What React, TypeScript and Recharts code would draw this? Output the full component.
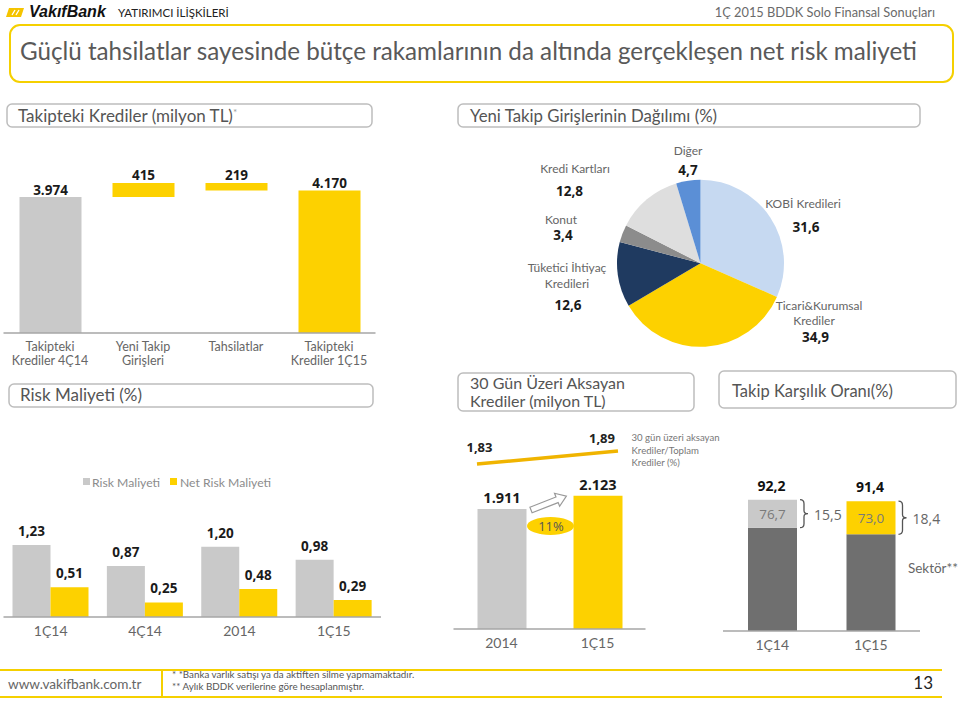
import React from "react";
import { BarChart, Bar, XAxis, YAxis, PieChart, Pie, Cell, ComposedChart, Line, LabelList } from "recharts";

const TEXT_FONT = "'Lato', 'Open Sans', sans-serif";
const NUM_FONT = "'Open Sans', sans-serif";
const YELLOW = "#fdd100";
const LIGHT_GREY = "#c9c9c9";
const DARK_GREY = "#6f6f6f";
const AXIS = "#a6a6a6";
const TICK_GREY = "#666";

// Takipteki Krediler (milyon TL)
const nplSteps = ["Takipteki Krediler 4Ç14", "Yeni Takip Girişleri", "Tahsilatlar", "Takipteki Krediler 1Ç15"];
const nplTickLines = [["Takipteki", "Krediler 4Ç14"], ["Yeni Takip", "Girişleri"], ["Tahsilatlar"], ["Takipteki", "Krediler 1Ç15"]];
const nplValues = [3974, 415, 219, 4170];
const nplKinds = ["total", "up", "down", "total"];
const nplColors = [LIGHT_GREY, YELLOW, YELLOW, YELLOW];

// Yeni Takip Girişlerinin Dağılımı (%)
const pieNames = ["KOBİ Kredileri", "Ticari&Kurumsal Krediler", "Tüketici İhtiyaç Kredileri", "Konut", "Kredi Kartları", "Diğer"];
const pieNameLines = [["KOBİ Kredileri"], ["Ticari&Kurumsal", "Krediler"], ["Tüketici İhtiyaç", "Kredileri"], ["Konut"], ["Kredi Kartları"], ["Diğer"]];
const pieValues = [31.6, 34.9, 12.6, 3.4, 12.8, 4.7];
const pieColors = ["#c6d9f1", YELLOW, "#1f3a60", "#8c8c8c", "#dedede", "#5b8fd6"];

// Risk Maliyeti (%)
const riskPeriods = ["1Ç14", "4Ç14", "2014", "1Ç15"];
const riskCost = [1.23, 0.87, 1.2, 0.98];
const netRiskCost = [0.51, 0.25, 0.48, 0.29];

// 30 Gün Üzeri Aksayan Krediler
const pastDuePeriods = ["2014", "1Ç15"];
const pastDueAmounts = [1911, 2123];
const pastDueRatio = [1.83, 1.89];
const pastDueColors = [LIGHT_GREY, YELLOW];

// Takip Karşılık Oranı (%)
const coveragePeriods = ["1Ç14", "1Ç15"];
const coverageTotal = [92.2, 91.4];
const sectorCoverage = [76.7, 73.0];
const coverageColors = [LIGHT_GREY, YELLOW];

// label offsets around the pie centre (text centres)
const pieLabelLayout = [
  { names: [[102.5, -59.3]], value: [105.5, -36.3] },
  { names: [[118.5, 42.7], [113.5, 57.2]], value: [115, 73.7] },
  { names: [[-133.5, 4.7], [-133.5, 20.7]], value: [-132.5, 41.7] },
  { names: [[-139.5, -43.3]], value: [-137.5, -28.8] },
  { names: [[-125.5, -94.3]], value: [-131, -72.3] },
  { names: [[-12.5, -112.3]], value: [-12.5, -93.3] },
];
const ratioLabelOffset = [[2.5, -12], [-16, -8]];

const fmt = (v: number, dec = 0) => {
  const [i, f] = v.toFixed(dec).split(".");
  const intStr = i.replace(/\B(?=(\d{3})+(?!\d))/g, ".");
  return f ? `${intStr},${f}` : intStr;
};

let running = 0;
const nplData = nplSteps.map((name, i) => {
  const v = nplValues[i];
  let base = 0;
  if (nplKinds[i] === "total") running = v;
  else if (nplKinds[i] === "up") { base = running; running += v; }
  else { running -= v; base = running; }
  return { name, base, value: v };
});

const pieData = pieNames.map((name, i) => ({ name, value: pieValues[i] }));
const riskData = riskPeriods.map((period, i) => ({ period, risk: riskCost[i], net: netRiskCost[i] }));
const pastDueData = pastDuePeriods.map((period, i) => ({ period, amount: pastDueAmounts[i], ratio: pastDueRatio[i] }));
const coverageData = coveragePeriods.map((period, i) => ({
  period,
  sector: sectorCoverage[i],
  gap: Math.round((coverageTotal[i] - sectorCoverage[i]) * 10) / 10,
}));

const box = (p: any) => p.viewBox ?? p;

const valueAbove = (gap: number, size: number, dec: number) => (props: any) => {
  const vb = box(props);
  return (
    <text x={vb.x + vb.width / 2} y={vb.y - gap} textAnchor="middle" fontFamily={NUM_FONT}
      fontWeight={700} fontSize={size} fill="#1a1a1a">
      {fmt(Number(props.value), dec)}
    </text>
  );
};

const simpleTick = (dy: number) => (props: any) => (
  <text x={props.x} y={props.y + dy} textAnchor="middle" fontFamily={TEXT_FONT} fontSize={14} fill={TICK_GREY}>
    {props.payload.value}
  </text>
);

const NplTick = (props: any) => {
  const idx = nplSteps.indexOf(props.payload.value);
  const lines = nplTickLines[idx] ?? [props.payload.value];
  return (
    <text textAnchor="middle" fontFamily={TEXT_FONT} fontSize={12.5} fill={TICK_GREY}>
      {lines.map((l, i) => (
        <tspan key={i} x={props.x} y={props.y + 17.5 + i * 14.5}>{l}</tspan>
      ))}
    </text>
  );
};

const renderPieLabel = (props: any) => {
  const i = props.index ?? pieNames.indexOf(props.name);
  const lay = pieLabelLayout[i];
  const { cx, cy } = props;
  return (
    <g>
      {pieNameLines[i].map((l, k) => (
        <text key={k} x={cx + lay.names[k][0]} y={cy + lay.names[k][1] + 4} textAnchor="middle"
          fontFamily={TEXT_FONT} fontSize={12} fill="#666">{l}</text>
      ))}
      <text x={cx + lay.value[0]} y={cy + lay.value[1] + 5} textAnchor="middle" fontFamily={NUM_FONT}
        fontWeight={700} fontSize={13.5} fill="#1a1a1a">{fmt(pieValues[i], 1)}</text>
    </g>
  );
};

const ratioLabel = (props: any) => {
  const vb = box(props);
  const i = props.index ?? pastDueRatio.indexOf(props.value);
  const [dx, dy] = ratioLabelOffset[i] ?? [0, -10];
  return (
    <text x={vb.x + dx} y={vb.y + dy} textAnchor="middle" fontFamily={NUM_FONT} fontWeight={700}
      fontSize={13} fill="#222">{fmt(Number(props.value), 2)}</text>
  );
};

const gapLabel = (props: any) => {
  const vb = box(props);
  const gaps = coverageData.map((d) => d.gap);
  const i = props.index ?? gaps.indexOf(props.value);
  const { x, y, width, height } = vb;
  const mid = y + height / 2;
  const bx = x + width + 3;
  return (
    <g>
      <text x={x + width / 2 - 1} y={y - 9} textAnchor="middle" fontFamily={NUM_FONT} fontWeight={700}
        fontSize={14} fill="#111">{fmt(coverageTotal[i], 1)}</text>
      <text x={x + width / 2} y={mid + 5} textAnchor="middle" fontFamily={NUM_FONT} fontSize={13.5}
        fill="#7a7a7a">{fmt(sectorCoverage[i], 1)}</text>
      <path
        d={`M${bx} ${y} Q${bx + 4} ${y} ${bx + 4} ${y + 4} L${bx + 4} ${mid - 3} Q${bx + 4} ${mid} ${bx + 8} ${mid}
           Q${bx + 4} ${mid} ${bx + 4} ${mid + 3} L${bx + 4} ${y + height - 4} Q${bx + 4} ${y + height} ${bx} ${y + height}`}
        fill="none" stroke="#555" strokeWidth={1.3} />
      <text x={bx + 14} y={mid + 6} fontFamily={NUM_FONT} fontSize={14} fill="#666">{fmt(Number(props.value), 1)}</text>
    </g>
  );
};

const NplChart = () => (
  <BarChart width={380} height={230} data={nplData} margin={{ top: 12, right: 4.5, left: 3.5, bottom: 0 }} barSize={62}>
    <XAxis dataKey="name" height={47} tickLine={false} tickSize={0} tickMargin={0} interval={0}
      axisLine={{ stroke: AXIS, strokeWidth: 1.5 }} tick={<NplTick />} />
    <YAxis hide width={0} domain={[0, 5000]} />
    <Bar dataKey="base" stackId="w" fill="transparent" isAnimationActive={false} />
    <Bar dataKey="value" stackId="w" isAnimationActive={false}>
      {nplData.map((d, i) => <Cell key={i} fill={nplColors[i]} />)}
      <LabelList dataKey="value" content={valueAbove(2.5, 13.5, 0)} />
    </Bar>
  </BarChart>
);

const PieBlock = () => (
  <PieChart width={510} height={245} margin={{ top: 0, right: 0, bottom: 0, left: 0 }}>
    <Pie data={pieData} dataKey="value" nameKey="name" cx={250.5} cy={133.3} outerRadius={83.5}
      startAngle={90} endAngle={-270} stroke="none" label={renderPieLabel} labelLine={false}
      isAnimationActive={false}>
      {pieData.map((d, i) => <Cell key={i} fill={pieColors[i]} />)}
    </Pie>
  </PieChart>
);

const RiskChart = () => (
  <BarChart width={385} height={160} data={riskData} margin={{ top: 10, right: 4, left: 3.5, bottom: 0 }}
    barGap={0} barSize={38}>
    <XAxis dataKey="period" height={33} tickLine={false} tickSize={0} tickMargin={0}
      axisLine={{ stroke: AXIS, strokeWidth: 1.5 }} tick={simpleTick(19)} />
    <YAxis hide width={0} domain={[0, 2]} />
    <Bar dataKey="risk" fill={LIGHT_GREY} isAnimationActive={false}>
      <LabelList dataKey="risk" content={valueAbove(9, 13.5, 2)} />
    </Bar>
    <Bar dataKey="net" fill={YELLOW} isAnimationActive={false}>
      <LabelList dataKey="net" content={valueAbove(9, 13.5, 2)} />
    </Bar>
  </BarChart>
);

const PastDueChart = () => (
  <ComposedChart width={200} height={230} data={pastDueData} margin={{ top: 5, right: 4.5, left: 3.5, bottom: 0 }}>
    <XAxis xAxisId="bars" dataKey="period" height={26} tickLine={false} tickSize={0} tickMargin={0}
      axisLine={{ stroke: AXIS, strokeWidth: 1.5 }} tick={simpleTick(19)} />
    <XAxis xAxisId="pts" dataKey="period" hide scale="point" padding={{ left: 23.5, right: 27.5 }} />
    <YAxis yAxisId="amt" hide width={0} domain={[0, 3170]} />
    <YAxis yAxisId="ratio" hide width={0} domain={[1.0685, 1.987]} allowDataOverflow />
    <Bar xAxisId="bars" yAxisId="amt" dataKey="amount" barSize={49} isAnimationActive={false}>
      {pastDueData.map((d, i) => <Cell key={i} fill={pastDueColors[i]} />)}
      <LabelList dataKey="amount" content={valueAbove(6, 14.5, 0)} />
    </Bar>
    <Line xAxisId="pts" yAxisId="ratio" dataKey="ratio" stroke="#f0b400" strokeWidth={3.5} dot={false}
      isAnimationActive={false}>
      <LabelList dataKey="ratio" content={ratioLabel} />
    </Line>
  </ComposedChart>
);

const CoverageChart = () => (
  <BarChart width={240} height={185} data={coverageData} margin={{ top: 15.6, right: 40, left: 3, bottom: 0 }} barSize={49}>
    <XAxis dataKey="period" height={24} tickLine={false} tickSize={0} tickMargin={0}
      axisLine={{ stroke: AXIS, strokeWidth: 1.5 }} tick={simpleTick(19)} />
    <YAxis hide width={0} domain={[19.5, 100]} allowDataOverflow />
    <Bar dataKey="sector" stackId="c" fill={DARK_GREY} isAnimationActive={false} />
    <Bar dataKey="gap" stackId="c" isAnimationActive={false}>
      {coverageData.map((d, i) => <Cell key={i} fill={coverageColors[i]} />)}
      <LabelList dataKey="gap" content={gapLabel} />
    </Bar>
  </BarChart>
);

const SectionBox = ({ x, y, w, h, lines, tx, baselines, size }: any) => (
  <g>
    <rect x={x} y={y} width={w} height={h} rx={5} fill="#fff" stroke="#bdbdbd" strokeWidth={1.5} />
    {lines.map((l: any, i: number) => (
      <text key={i} x={tx} y={baselines[i]} fontFamily={TEXT_FONT} fontSize={size} fill="#555">{l}</text>
    ))}
  </g>
);

const Backdrop = () => (
  <svg width={960} height={702} style={{ position: "absolute", left: 0, top: 0 }}>
    {/* header */}
    <path d="M9 8 L24 8 L21 17 L6 17 Z" fill="#f5c400" />
    <path d="M12 15 L15 10 M16 15 L19 10" stroke="#fff" strokeWidth={1.3} />
    <text x={29} y={17} fontFamily="'Liberation Sans', Arial, sans-serif" fontStyle="italic" fontWeight={700}
      fontSize={16} fill="#111">VakıfBank</text>
    <text x={118} y={17} fontFamily={TEXT_FONT} fontSize={11.5} fill="#222">YATIRIMCI İLİŞKİLERİ</text>
    <text x={935} y={17} textAnchor="end" fontFamily={TEXT_FONT} fontSize={12.8} fill="#6a6a6a">
      1Ç 2015 BDDK Solo Finansal Sonuçları
    </text>

    {/* title */}
    <rect x={10} y={25} width={943} height={57} rx={10} fill="none" stroke="#f5d000" strokeWidth={2} />
    <text x={20} y={60} fontFamily={TEXT_FONT} fontSize={24.2} fill="#595959">
      Güçlü tahsilatlar sayesinde bütçe rakamlarının da altında gerçekleşen net risk maliyeti
    </text>

    {/* section headers */}
    <SectionBox x={7} y={104} w={365} h={23} tx={18} baselines={[121.5]} size={17}
      lines={[<>Takipteki Krediler (milyon TL)<tspan dy={-6} fontSize={10} fill="#999">*</tspan></>]} />
    <SectionBox x={458} y={104} w={462} h={23} tx={470} baselines={[121.5]} size={16.8}
      lines={["Yeni Takip Girişlerinin Dağılımı (%)"]} />
    <SectionBox x={9} y={384} w={364} h={23} tx={20} baselines={[401]} size={17}
      lines={["Risk Maliyeti (%)"]} />
    <SectionBox x={458} y={373} w={236} h={38} tx={470} baselines={[389, 406.5]} size={16}
      lines={["30 Gün Üzeri Aksayan", "Krediler (milyon TL)"]} />
    <SectionBox x={719} y={371} w={237} h={37} tx={732} baselines={[396.5]} size={16.5}
      lines={["Takip Karşılık Oranı(%)"]} />

    {/* risk legend */}
    <rect x={83} y={478} width={7} height={7} fill={LIGHT_GREY} />
    <text x={92} y={486.5} fontFamily={TEXT_FONT} fontSize={12.2} fill="#8c8c8c">Risk Maliyeti</text>
    <rect x={170} y={478} width={7} height={7} fill={YELLOW} />
    <text x={180} y={486.5} fontFamily={TEXT_FONT} fontSize={12.2} fill="#8c8c8c">Net Risk Maliyeti</text>

    {/* 30 gün annotations */}
    <text fontFamily={TEXT_FONT} fontSize={9.6} fill="#777">
      <tspan x={631.5} y={441}>30 gün üzeri aksayan</tspan>
      <tspan x={631.5} y={453.5}>Krediler/Toplam</tspan>
      <tspan x={631.5} y={466}>Krediler (%)</tspan>
    </text>
    <g transform="translate(531 510) rotate(-21.4)">
      <path d="M0 -3 L28 -3 L28 -7 L38 0 L28 7 L28 3 L0 3 Z" fill="#fff" stroke="#9a9a9a" strokeWidth={1.2} />
    </g>
    <ellipse cx={550.5} cy={526} rx={23.5} ry={9} fill={YELLOW} />
    <text x={551} y={531} textAnchor="middle" fontFamily={NUM_FONT} fontSize={13} fill="#555">11%</text>

    <text x={958} y={573} textAnchor="end" fontFamily={TEXT_FONT} fontSize={13.5} fill="#666">Sektör**</text>

    {/* footer */}
    <line x1={0} y1={670} x2={942} y2={670} stroke="#f5d000" strokeWidth={2} />
    <line x1={0} y1={697} x2={942} y2={697} stroke="#f5d000" strokeWidth={2} />
    <line x1={162} y1={670} x2={162} y2={697} stroke="#f5d000" strokeWidth={2} />
    <text x={8} y={688.5} fontFamily={TEXT_FONT} fontSize={13.6} fill="#666">www.vakifbank.com.tr</text>
    <text fontFamily={TEXT_FONT} fontSize={9.8} fill="#555">
      <tspan x={172} y={678}>* *Banka varlık satışı ya da aktiften silme yapmamaktadır.</tspan>
      <tspan x={172} y={689.5}>** Aylık  BDDK verilerine göre hesaplanmıştır.</tspan>
    </text>
    <text x={933} y={689} textAnchor="end" fontFamily={TEXT_FONT} fontSize={17} fill="#222">13</text>
  </svg>
);

const place = (left: number, top: number): React.CSSProperties => ({ position: "absolute", left, top });

export default function App() {
  return (
    <div style={{ position: "absolute", left: 0, top: 0, width: 960, height: 702, background: "#fff", overflow: "hidden" }}>
      <Backdrop />
      <div style={place(0, 150)}><NplChart /></div>
      <div style={place(450, 130)}><PieBlock /></div>
      <div style={place(0, 490)}><RiskChart /></div>
      <div style={place(450, 425)}><PastDueChart /></div>
      <div style={place(720, 470)}><CoverageChart /></div>
    </div>
  );
}
